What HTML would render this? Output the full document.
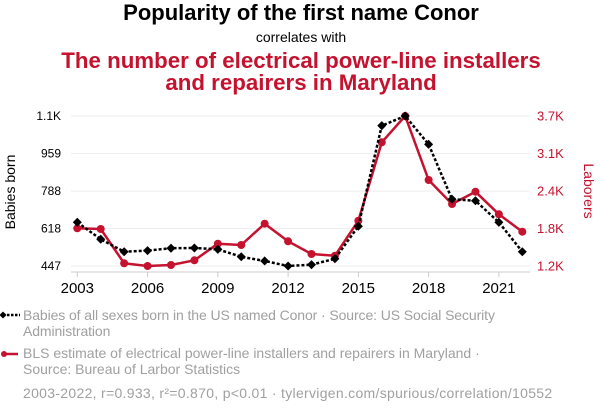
<!DOCTYPE html>
<html><head><meta charset="utf-8"><style>
html,body{margin:0;padding:0;background:#fff;width:600px;height:414px;overflow:hidden;font-family:"Liberation Sans",sans-serif}
.t{position:absolute;left:0;width:602px;text-align:center;white-space:nowrap}
.leg{position:absolute;left:23px;font-size:14px;color:#a0a0a0;line-height:16px;width:575px;white-space:nowrap}
</style></head><body>
<div class="t" style="top:0px;font-size:22px;font-weight:bold;color:#000">Popularity of the first name Conor</div>
<div class="t" style="top:29px;font-size:14px;line-height:16px;color:#000">correlates with</div>
<div class="t" style="top:50px;font-size:22.3px;font-weight:bold;color:#c4122f;line-height:22px">The number of electrical power-line installers<br>and repairers in Maryland</div>
<svg id="c" width="600" height="300" style="position:absolute;left:0;top:0"></svg>
<div class="leg" style="top:307px;letter-spacing:-0.1px">Babies of all sexes born in the US named Conor · Source: US Social Security<br>Administration</div>
<div class="leg" style="top:345px">BLS estimate of electrical power-line installers and repairers in Maryland ·<br>Source: Bureau of Larbor Statistics</div>
<div class="leg" style="top:385px;letter-spacing:0.3px">2003-2022, r=0.933, r²=0.870, p&lt;0.01 · tylervigen.com/spurious/correlation/10552</div>
<svg width="22" height="90" style="position:absolute;left:0;top:305px">
<line x1="3" y1="10" x2="20" y2="10" stroke="#000" stroke-width="2.5" stroke-dasharray="2.5,1.5"/>
<rect x="0.5" y="7.5" width="5" height="5" transform="rotate(45 3 10)" fill="#000"/>
<line x1="3" y1="49" x2="18" y2="49" stroke="#c4122f" stroke-width="2.5"/>
<circle cx="4" cy="49" r="3" fill="#c4122f"/>
</svg>
<script>
const years=[2003,2004,2005,2006,2007,2008,2009,2010,2011,2012,2013,2014,2015,2016,2017,2018,2019,2020,2021,2022];
const conor=[646,569,512,517,528,529,523,489,470,447,453,480,628,1086,1130,1001,751,744,646,512];
const workers=[1811,1799,1216,1170,1187,1267,1549,1527,1889,1590,1374,1345,1940,3273,3720,2632,2224,2433,2049,1753];
const leftTicks=[447,618,788,959,1130];
const leftLabels=["447","618","788","959","1.1K"];
const rightTicks=[1170,1807,2445,3082,3720];
const rightLabels=["1.2K","1.8K","2.4K","3.1K","3.7K"];
const xTicks=[2003,2006,2009,2012,2015,2018,2021];
const NS="http://www.w3.org/2000/svg";
const svg=document.getElementById('c');
const x=v=>77.3+(v-2003)*(522.3-77.3)/19;
const yl=v=>266-(v-447)/(1130-447)*150;
const yr=v=>266-(v-1170)/(3720-1170)*150;
function mk(t,a,p){const e=document.createElementNS(NS,t);for(const k in a)e.setAttribute(k,a[k]);(p||svg).appendChild(e);return e;}
leftTicks.forEach((v,i)=>{
  const g=mk('line',{x1:71,x2:530,y1:yl(v),y2:yl(v),stroke:'#eee','stroke-width':1});
  
  
  const t=mk('text',{x:61,y:yl(v)+4,'text-anchor':'end','font-size':12,fill:'#000'});t.textContent=leftLabels[i];
  
  
});
rightTicks.forEach((v,i)=>{
  const t=mk('text',{x:537,y:yr(v)+4.5,'font-size':13,fill:'#c4122f'});t.textContent=rightLabels[i];
  
  
});
const ax=mk('line',{x1:71,x2:530,y1:272,y2:272,stroke:'#ccc'});


xTicks.forEach(v=>{
  mk('line',{x1:x(v),x2:x(v),y1:272,y2:277,stroke:'#ccc'});
  const t=mk('text',{x:x(v),y:293,'text-anchor':'middle','font-size':15,fill:'#000'});t.textContent=v;
  
  
});
const lt=mk('text',{transform:'translate(15,192) rotate(-90)','text-anchor':'middle','font-size':14,fill:'#000'});lt.textContent='Babies born';


const rt=mk('text',{transform:'translate(584,191) rotate(90)','text-anchor':'middle','font-size':14,fill:'#c4122f'});rt.textContent='Laborers';


const rl=mk('polyline',{points:years.map((y,i)=>x(y)+','+yr(workers[i])).join(' '),fill:'none',stroke:'#c4122f','stroke-width':2.5,'stroke-linejoin':'round'});


years.forEach((y,i)=>{const c=mk('circle',{cx:x(y),cy:yr(workers[i]),r:4,fill:'#c4122f'});
  
  });
const bl=mk('polyline',{points:years.map((y,i)=>x(y)+','+yl(conor[i])).join(' '),fill:'none',stroke:'#000','stroke-width':2.5,'stroke-dasharray':'3,2'});


years.forEach((y,i)=>{const cx=x(y),cy=yl(conor[i]);
  const d=mk('rect',{x:cx-3.2,y:cy-3.2,width:6.4,height:6.4,fill:'#000',transform:`rotate(45 ${cx} ${cy})`});
  
  });
</script>
</body></html>
